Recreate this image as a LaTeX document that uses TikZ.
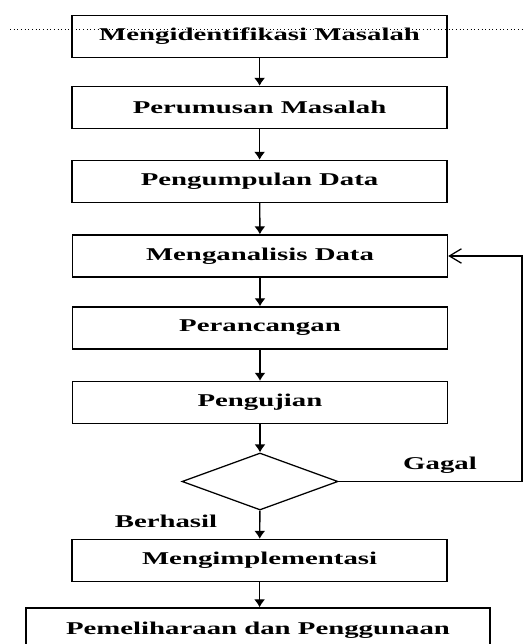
\documentclass[tikz,border=0pt]{standalone}
\usepackage{fontspec}
\setmainfont{Liberation Serif}[FakeStretch=1.6]
\usetikzlibrary{shapes.geometric,arrows.meta}

\tikzset{
  langkah/.style={draw, line width=1pt, minimum width=9.375cm, minimum height=1.05cm,
    inner sep=0pt, font=\fontsize{12.8}{14}\selectfont\bfseries},
  keputusan/.style={draw, diamond, line width=0.9pt, minimum width=3.9cm, minimum height=1.425cm,
    inner sep=0pt},
  panah/.style={line width=1pt, -{Latex[length=2mm,width=2.8mm]}},
  balik/.style={line width=0.9pt, -{Straight Barb[length=3mm,width=3.6mm]}},
  ket/.style={font=\fontsize{12.8}{14}\selectfont\bfseries}
}

\begin{document}
\begin{tikzpicture}
% page frame
\clip (0,0) rectangle (13.075,16.1);

% Drawing steps
\node[langkah] (masalah) at (6.49,15.1875) {Mengidentifikasi Masalah};
\node[langkah] (rumusan) at (6.49,13.4125) {Perumusan Masalah};
\node[langkah] (data) at (6.49,11.5625) {Pengumpulan Data};
\node[langkah] (analisis) at (6.5,9.7) {Menganalisis Data};
\node[langkah] (rancang) at (6.5,7.9) {Perancangan};
\node[langkah] (uji) at (6.5,6.0375) {Pengujian};

% Drawing decision
\node[keputusan] (cek) at (6.5,4.0625) {};

\node[langkah] (implementasi) at (6.49,2.0875) {Mengimplementasi};
\node[langkah, minimum width=11.6cm, minimum height=1.1cm] (pelihara) at (6.45,0.35) {Pemeliharaan dan Penggunaan};

% Drawing arrows
\draw[panah] (masalah) -- (rumusan);
\draw[panah] (rumusan) -- (data);
\draw[panah] (data) -- (analisis);
\draw[panah] (analisis) -- (rancang);
\draw[panah] (rancang) -- (uji);
\draw[panah] (uji) -- (cek);
\draw[panah] (cek) -- (implementasi);
\draw[panah] (implementasi.south) -- (implementasi.south |- pelihara.north);

% Feedback when test fails
\coordinate (pojok) at (13.05,4.0625);
\draw[balik] (cek.east) -- (pojok) |- (analisis.east);

% Marking labels
\node[ket] (gagal) at (11.0,4.475) {Gagal};
\node[ket] (berhasil) at (4.15,3.075) {Berhasil};

% Dotted guide line
\coordinate (garisA) at (0.25,15.375);
\coordinate (garisB) at (13.075,15.375);
\draw[dotted, line width=0.6pt] (garisA) -- (garisB);
\end{tikzpicture}
\end{document}
